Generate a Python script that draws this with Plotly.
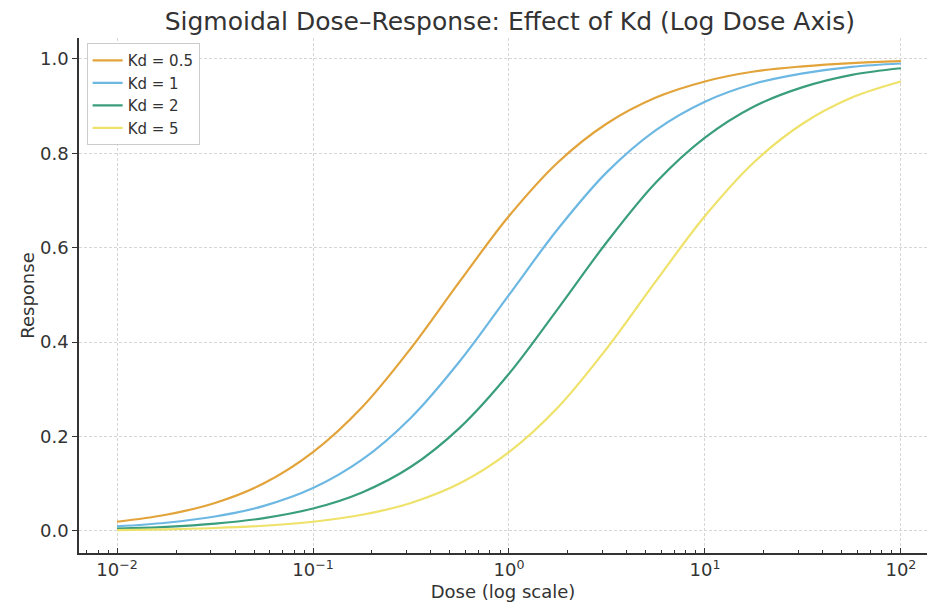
import plotly.graph_objects as go

dose = [0.01, 0.0178, 0.0316, 0.0562, 0.1, 0.178, 0.316, 0.562, 1, 1.78, 3.16, 5.62, 10, 17.8, 31.6, 56.2, 100]
resp_kd05 = [0.0196, 0.0344, 0.0594, 0.101, 0.167, 0.262, 0.387, 0.529, 0.667, 0.781, 0.863, 0.918, 0.952, 0.973, 0.984, 0.991, 0.995]
resp_kd1 = [0.0099, 0.0175, 0.0306, 0.0532, 0.0909, 0.151, 0.240, 0.360, 0.5, 0.640, 0.760, 0.849, 0.909, 0.947, 0.969, 0.983, 0.990]
resp_kd2 = [0.005, 0.0088, 0.0156, 0.0273, 0.0476, 0.0817, 0.136, 0.219, 0.333, 0.471, 0.612, 0.738, 0.833, 0.899, 0.940, 0.966, 0.980]
resp_kd5 = [0.002, 0.0036, 0.0063, 0.0111, 0.0196, 0.0344, 0.0594, 0.101, 0.167, 0.262, 0.387, 0.529, 0.667, 0.781, 0.863, 0.918, 0.952]

series_names = ["Kd = 0.5", "Kd = 1", "Kd = 2", "Kd = 5"]
series_values = [resp_kd05, resp_kd1, resp_kd2, resp_kd5]
colors = ["#E2A43A", "#6DB8E2", "#3A9E7C", "#EEE26A"]

x_tickvals = [0.01, 0.1, 1, 10, 100]
x_ticktext = ["10<sup>−2</sup>", "10<sup>−1</sup>", "10<sup>0</sup>", "10<sup>1</sup>", "10<sup>2</sup>"]
y_tickvals = [0.0, 0.2, 0.4, 0.6, 0.8, 1.0]
y_ticktext = ["0.0", "0.2", "0.4", "0.6", "0.8", "1.0"]

fig = go.Figure()
for name, vals, c in zip(series_names, series_values, colors):
    fig.add_trace(go.Scatter(x=dose, y=vals, mode="lines", name=name,
                             line=dict(color=c, width=2.2, shape="spline", smoothing=1.0)))

FONT = "DejaVu Sans"
TXT = "#333333"
fig.update_layout(
    width=927, height=605,
    margin=dict(l=79, r=0, t=38, b=52),
    paper_bgcolor="white", plot_bgcolor="white",
    font=dict(family=FONT, color=TXT, size=18),
    title=dict(text="Sigmoidal Dose–Response: Effect of Kd (Log Dose Axis)",
               x=0.508, xref="paper", xanchor="center",
               y=0.965, yref="container", yanchor="middle",
               font=dict(size=25, color=TXT, family=FONT)),
    showlegend=True,
    legend=dict(x=0.009, y=0.99, xanchor="left", yanchor="top",
                bgcolor="white", bordercolor="#cccccc", borderwidth=1,
                font=dict(size=15, color=TXT, family=FONT),
                tracegroupgap=0, itemwidth=30),
)
fig.update_xaxes(
    type="log", range=[-2.194, 2.133],
    tickvals=x_tickvals, ticktext=x_ticktext,
    ticks="inside", ticklen=5, tickwidth=1.2, tickcolor=TXT,
    showline=True, linecolor=TXT, linewidth=1.6, mirror=False,
    showgrid=True, gridcolor="#d6d6d6", griddash="3px,2px", gridwidth=0.8,
    zeroline=False,
    minor=dict(ticks="inside", ticklen=3, tickwidth=1, tickcolor=TXT, dtick="D1", showgrid=False),
    tickfont=dict(size=18, color=TXT),
    title=dict(text="Dose (log scale)", font=dict(size=18, color=TXT), standoff=6),
)
fig.update_yaxes(
    range=[-0.0466, 1.044],
    tickvals=y_tickvals, ticktext=y_ticktext,
    ticks="outside", ticklen=5, tickwidth=1.2, tickcolor=TXT,
    showline=True, linecolor=TXT, linewidth=1.6, mirror=False,
    showgrid=True, gridcolor="#d6d6d6", griddash="3px,2px", gridwidth=0.8,
    zeroline=False,
    tickfont=dict(size=18, color=TXT),
    title=dict(text="Response", font=dict(size=18, color=TXT), standoff=1),
)

fig.write_html("out.html")
